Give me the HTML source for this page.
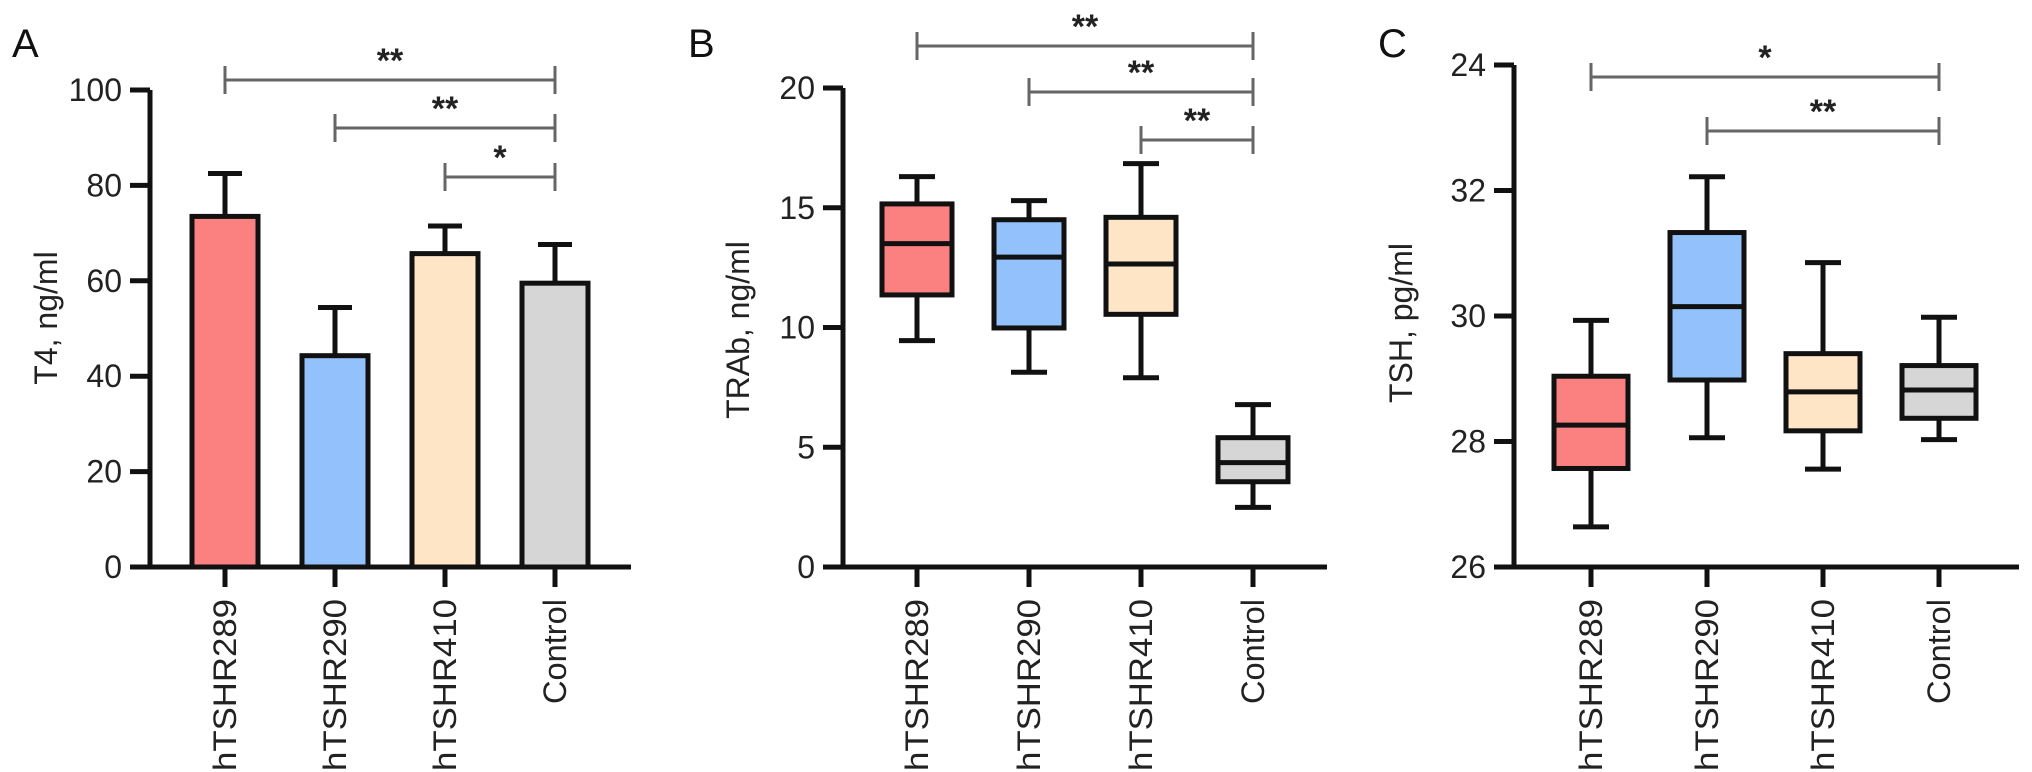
<!DOCTYPE html>
<html><head><meta charset="utf-8"><style>
html,body{margin:0;padding:0;background:#fff;}
svg{display:block;font-family:"Liberation Sans",Arial,sans-serif;}
</style></head><body>
<svg id="fig" width="2032" height="772" viewBox="0 0 2032 772" xmlns="http://www.w3.org/2000/svg"></svg>
<script>
const categories = ["hTSHR289","hTSHR290","hTSHR410","Control"];
const colors = ["#fb8080","#93c1fb","#fde5c6","#d6d6d6"];
// Panel A
const t4Mean = [73.5,44.3,65.7,59.5];
const t4ErrTop = [82.5,54.4,71.5,67.6];
const t4Ticks = [0,20,40,60,80,100];
// Panel B
const trabMax = [16.3,15.3,16.84,6.78];
const trabQ3 = [15.16,14.5,14.6,5.4];
const trabMed = [13.5,12.94,12.65,4.36];
const trabQ1 = [11.36,9.98,10.55,3.56];
const trabMin = [9.45,8.13,7.9,2.49];
const trabTicks = [0,5,10,15,20];
// Panel C
const tshMax = [29.93,32.22,30.85,29.98];
const tshQ3 = [29.04,31.33,29.40,29.21];
const tshMed = [28.26,30.15,28.79,28.82];
const tshQ1 = [27.57,28.98,28.17,28.37];
const tshMin = [26.64,28.06,27.56,28.03];
const tshTicks = [26,28,30,32,34];
const tshTickLabels = ["26","28","30","32","24"];

const svg = document.getElementById('fig');
const NS = "http://www.w3.org/2000/svg";
function mk(tag, attrs, parent){
  const e = document.createElementNS(NS, tag);
  for (const k in attrs) e.setAttribute(k, attrs[k]);
  (parent||svg).appendChild(e);
  return e;
}
function txt(s, attrs, parent){ const e = mk('text', attrs, parent); e.textContent = s; return e; }

function panel(cfg){
  const g = mk('g', {});
  
  
  const y = v => cfg.y0 + (v - cfg.vmin) * (cfg.y1 - cfg.y0) / (cfg.vmax - cfg.vmin);
  const x = i => cfg.cx0 + i * cfg.step;
  // panel letter
  const L = txt(cfg.letter, {x: cfg.letterX, y: 57, 'font-size': 40, fill: '#111'}, g);
  
  
  // y title
  const yt = txt(cfg.ytitle, {x: 0, y: 0, 'font-size': 32, fill: '#222', 'text-anchor': 'middle', transform: `translate(${cfg.ytX},${cfg.ytY}) rotate(-90)`}, g);
  
  
  // axes
  const ya = mk('line', {x1: cfg.ax, x2: cfg.ax, y1: y(cfg.vmax), y2: cfg.y0 + 2, stroke: '#111', 'stroke-width': 5}, g);
  
  
  const xa = mk('line', {x1: cfg.ax - 2, x2: cfg.axEnd, y1: cfg.y0, y2: cfg.y0, stroke: '#111', 'stroke-width': 5}, g);
  
  
  cfg.ticks.forEach((t, i) => {
    const tl = mk('line', {x1: cfg.ax - 20, x2: cfg.ax, y1: y(t), y2: y(t), stroke: '#111', 'stroke-width': 5}, g);
    
    
    const lb = txt(cfg.tickLabels ? cfg.tickLabels[i] : String(t), {x: cfg.ax - 28, y: y(t) + 11, 'font-size': 32, fill: '#222', 'text-anchor': 'end'}, g);
    
    
  });
  categories.forEach((c, i) => {
    const tk = mk('line', {x1: x(i), x2: x(i), y1: cfg.y0, y2: cfg.y0 + 20, stroke: '#111', 'stroke-width': 5}, g);
    
    
    const len = c === 'Control' ? 105 : 172;
    const lb = txt(c, {x: 0, y: 0, 'font-size': 32, fill: '#222', 'text-anchor': 'end', textLength: len, lengthAdjust: 'spacingAndGlyphs', transform: `translate(${x(i) + 11},${cfg.y0 + 32}) rotate(-90)`}, g);
    
    
  });
  cfg.draw(g, x, y);
  // brackets
  cfg.brackets.forEach(b => {
    const bg = mk('g', {}, g);
    
    
    const x1 = x(b[0]), x2 = x(b[1]);
    mk('line', {x1: x1, x2: x2, y1: b[2], y2: b[2], stroke: '#666', 'stroke-width': 3}, bg);
    mk('line', {x1: x1, x2: x1, y1: b[2] - 14, y2: b[2] + 14, stroke: '#666', 'stroke-width': 3}, bg);
    mk('line', {x1: x2, x2: x2, y1: b[2] - 14, y2: b[2] + 14, stroke: '#666', 'stroke-width': 3}, bg);
    txt(b[3], {x: (x1 + x2) / 2, y: b[2] - 8, 'font-size': 34, 'font-weight': 'bold', fill: '#222', 'text-anchor': 'middle'}, bg);
  });
}

panel({name: 'panel-a-t4', letter: 'A', letterX: 12, ytitle: 'T4, ng/ml', ytX: 57, ytY: 318,
  ax: 150, axEnd: 631, y0: 567, y1: 90, vmin: 0, vmax: 100, cx0: 225, step: 110, ticks: t4Ticks,
  brackets: [[0,3,80,'**'],[1,3,128,'**'],[2,3,177,'*']],
  draw: (g, x, y) => {
    categories.forEach((c, i) => {
      const bg = mk('g', {}, g);
      
      
      mk('line', {x1: x(i), x2: x(i), y1: y(t4ErrTop[i]), y2: y(t4Mean[i]), stroke: '#111', 'stroke-width': 5}, bg);
      mk('line', {x1: x(i) - 17, x2: x(i) + 17, y1: y(t4ErrTop[i]), y2: y(t4ErrTop[i]), stroke: '#111', 'stroke-width': 5}, bg);
      mk('rect', {x: x(i) - 33, y: y(t4Mean[i]), width: 66, height: y(0) - y(t4Mean[i]), fill: colors[i], stroke: '#111', 'stroke-width': 5}, bg);
    });
  }});

function boxes(mx, q3, md, q1, mn, hw){
  return (g, x, y) => {
    categories.forEach((c, i) => {
      const bg = mk('g', {}, g);
      
      
      mk('line', {x1: x(i), x2: x(i), y1: y(mx[i]), y2: y(mn[i]), stroke: '#111', 'stroke-width': 5}, bg);
      mk('line', {x1: x(i) - 18, x2: x(i) + 18, y1: y(mx[i]), y2: y(mx[i]), stroke: '#111', 'stroke-width': 5}, bg);
      mk('line', {x1: x(i) - 18, x2: x(i) + 18, y1: y(mn[i]), y2: y(mn[i]), stroke: '#111', 'stroke-width': 5}, bg);
      mk('rect', {x: x(i) - hw, y: y(q3[i]), width: 2 * hw, height: y(q1[i]) - y(q3[i]), fill: colors[i], stroke: '#111', 'stroke-width': 5}, bg);
      mk('line', {x1: x(i) - hw, x2: x(i) + hw, y1: y(md[i]), y2: y(md[i]), stroke: '#111', 'stroke-width': 5}, bg);
    });
  };
}

panel({name: 'panel-b-trab', letter: 'B', letterX: 688, ytitle: 'TRAb, ng/ml', ytX: 749, ytY: 330,
  ax: 843, axEnd: 1327, y0: 567, y1: 88, vmin: 0, vmax: 20, cx0: 917, step: 112, ticks: trabTicks,
  brackets: [[0,3,46,'**'],[1,3,92,'**'],[2,3,140,'**']],
  draw: boxes(trabMax, trabQ3, trabMed, trabQ1, trabMin, 35)});

panel({name: 'panel-c-tsh', letter: 'C', letterX: 1378, ytitle: 'TSH, pg/ml', ytX: 1412, ytY: 323,
  ax: 1514, axEnd: 2019, y0: 567, y1: 65, vmin: 26, vmax: 34, cx0: 1591, step: 116, ticks: tshTicks, tickLabels: tshTickLabels,
  brackets: [[0,3,77,'*'],[1,3,131,'**']],
  draw: boxes(tshMax, tshQ3, tshMed, tshQ1, tshMin, 37)});
</script>
</body></html>
